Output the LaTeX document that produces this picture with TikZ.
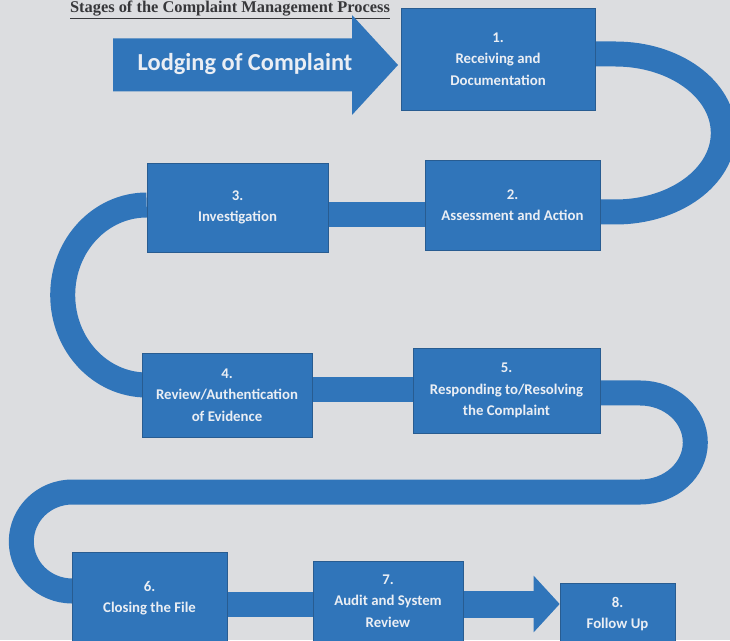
\documentclass[tikz,border=0pt]{standalone}
\usepackage{fontspec}
\setmainfont{Carlito}
\newfontfamily\titlefont{Liberation Serif}
\usetikzlibrary{arrows.meta,calc}
\definecolor{paper}{RGB}{220,221,224}
\definecolor{stageblue}{RGB}{48,117,186}
\definecolor{stageedge}{RGB}{40,92,145}
\definecolor{stagetext}{RGB}{234,238,244}
\definecolor{titlegrey}{RGB}{55,55,58}
\pgfdeclarelayer{paperlayer}
\pgfdeclarelayer{bandlayer}
\pgfsetlayers{paperlayer,bandlayer,main}

\begin{document}
\begin{tikzpicture}[x=1pt, y=1pt,
  stage/.style={fill=stageblue, draw=stageedge, line width=0.6pt, text=stagetext, inner sep=0pt,
    font=\bfseries\fontsize{14.8}{21.5}\selectfont, align=center},
  band/.style={draw=stageblue, line width=25pt},
  bigarrow/.style={draw=stageblue, line width=27pt, -{Triangle[length=26pt 0 0, width=55pt 0 0]}}
]
\useasboundingbox (0,0) rectangle (730,640);
\begin{pgfonlayer}{paperlayer}
\fill[paper] (0,0) rectangle (730,640);
\end{pgfonlayer}

\node[font=\titlefont\bfseries\fontsize{16.4}{19}\selectfont, text=titlegrey, anchor=base] (title) at (230,627)
  {\underline{Stages of the Complaint Management Process}};

\fill[stageblue] (113,601.5) -- (352,601.5) -- (352,625) -- (398,575) -- (352,525) -- (352,548.5) -- (113,548.5) -- cycle;
\node[font=\bfseries\fontsize{24.4}{28}\selectfont, text=stagetext] (lodge) at (245,576) {Lodging of Complaint};

\node[stage, minimum width=194pt, minimum height=102pt] (s1) at (498,581) {1.\\Receiving and\\Documentation};
\node[stage, minimum width=175pt, minimum height=90pt] (s2) at (512.5,435) {2.\\Assessment and Action};
\node[stage, minimum width=181pt, minimum height=89pt] (s3) at (237.5,432.5) {3.\\Investigation};
\node[stage, minimum width=170pt, minimum height=84pt] (s4) at (227,245) {4.\\Review/Authentication\\of Evidence};
\node[stage, minimum width=187pt, minimum height=85pt] (s5) at (506.5,249.5) {5.\\Responding to/Resolving\\the Complaint};
\node[stage, minimum width=155pt, minimum height=92pt] (s6) at (149.5,42) {6.\\Closing the File};
\node[stage, minimum width=150pt, minimum height=80pt] (s7) at (388,39) {7.\\Audit and System\\Review};
\node[stage, minimum width=115pt, minimum height=62pt] (s8) at (617.5,26) {8.\\Follow Up};

\coordinate (a7) at ($(s7.east)+(0,-3)$);

\begin{pgfonlayer}{bandlayer}
\draw[band] ($(s1.east)+(0,5)$) -- ++(20,0) arc[start angle=90, end angle=-90, x radius=108, y radius=79] -- ($(s2.east)+(0,-7)$);
\draw[band] ($(s2.west)+(0,-10)$) -- ($(s3.east)+(0,-7.5)$);
\draw[band] ($(s3.west)+(0,2.5)$) arc[start angle=90, end angle=270, x radius=84, y radius=90] -- ($(s4.west)+(0,10)$);
\draw[band] ($(s4.east)+(0,5)$) -- ($(s5.west)+(0,0.5)$);
\draw[band] ($(s5.east)+(0,-2.5)$) -- ++(40,0) arc[start angle=90, end angle=-90, x radius=55, y radius=49.5]
  -- ++(-568,0) arc[start angle=90, end angle=270, x radius=51, y radius=49.5] -- ($(s6.west)+(0,7)$);
\draw[band] ($(s6.east)+(0,-6)$) -- ($(s7.west)+(0,-3)$);
\draw[bigarrow] (a7) -- (a7 -| s8.west);
\end{pgfonlayer}
\end{tikzpicture}
\end{document}
